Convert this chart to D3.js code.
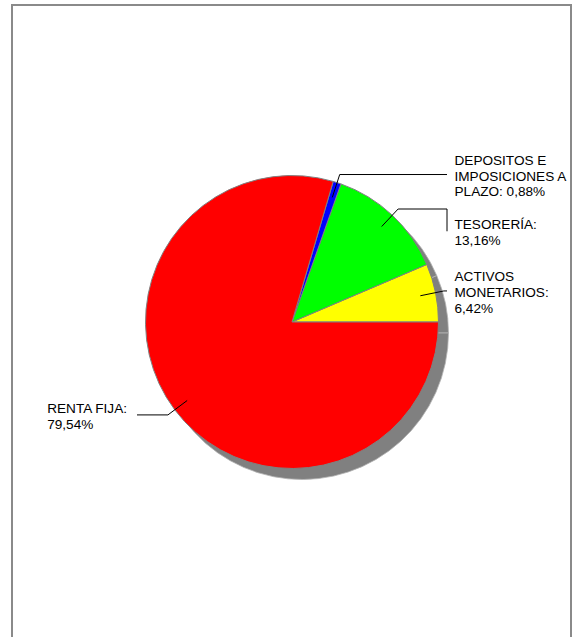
<!DOCTYPE html>
<html>
<head>
<meta charset="utf-8">
<script src="https://cdn.jsdelivr.net/npm/d3@7"></script>
<style>
	html, body { margin: 0; padding: 0; background: #fff; }
	svg { display: block; }
	text { font-family: "Liberation Sans", Arial, sans-serif; font-size: 13.6px; fill: #000; }
</style>
</head>
<body>
<svg id="chart"></svg>
<script>
// chart data (counter-clockwise from 3 o'clock)
const categories = ['ACTIVOS MONETARIOS', 'TESORERÍA', 'DEPOSITOS E IMPOSICIONES A PLAZO', 'RENTA FIJA'];
const values = [6.42, 13.16, 0.88, 79.54];
const colors = ['#ffff00', '#00ff00', '#0000ff', '#ff0000'];

const width = 572, height = 637;
const cx = 292, cy = 322, radius = 146.5;
const shadowDx = 10, shadowDy = 11;
const lineHeight = 15.7;
const wrapWidth = 116;

const esLocale = d3.formatLocale({ decimal: ',', thousands: '.', grouping: [3], currency: ['', '€'] });
const fmt = esLocale.format('.2f');

const svg = d3.select('#chart')
	.attr('width', width)
	.attr('height', height);

// frame
svg.append('rect')
	.attr('x', 12)
	.attr('y', 5)
	.attr('width', 559)
	.attr('height', 700)
	.attr('fill', 'none')
	.attr('stroke', '#8a8a8a')
	.attr('stroke-width', 2);

const pie = d3.pie()
	.sort(null)
	.value(d => d)
	.startAngle(Math.PI / 2)
	.endAngle(Math.PI / 2 - 2 * Math.PI);

const arcs = pie(values);

const arc = d3.arc().innerRadius(0).outerRadius(radius);
const innerArc = d3.arc().innerRadius(131).outerRadius(131);
const outerArc = d3.arc().innerRadius(155).outerRadius(155);

// shadow
svg.append('g')
	.attr('transform', `translate(${cx + shadowDx},${cy + shadowDy})`)
	.selectAll('path')
	.data(arcs)
	.enter()
	.append('path')
	.attr('d', arc)
	.attr('fill', '#808080')
	.attr('stroke', '#b4b4b4')
	.attr('stroke-width', 0.8);

const g = svg.append('g')
	.attr('transform', `translate(${cx},${cy})`);

g.selectAll('.slice')
	.data(arcs)
	.enter()
	.append('path')
	.attr('class', 'slice')
	.attr('d', arc)
	.attr('fill', (d, i) => colors[i])
	.attr('stroke', '#808080')
	.attr('stroke-width', 1);

// label text, wrapped
const measure = svg.append('text').attr('visibility', 'hidden');
const textWidth = s => { measure.text(s); return measure.node().getComputedTextLength(); };

const wrap = (str) => {
	const words = str.split(' ');
	const lines = [];
	let cur = '';
	words.forEach(w => {
		const test = cur ? cur + ' ' + w : w;
		if (cur && textWidth(test) > wrapWidth) {
			lines.push(cur);
			cur = w;
		} else {
			cur = test;
		}
	});
	if (cur) lines.push(cur);
	return lines;
};

const labels = arcs.map((d, i) => {
	const start = innerArc.centroid(d);
	const elbow = outerArc.centroid(d);
	const right = elbow[0] >= 0;
	const lines = wrap(`${categories[i]}: ${fmt(values[i])}%`);
	return { start, elbow, right, lines, y: elbow[1] };
});

// push labels apart on each side
[true, false].forEach(side => {
	const group = labels.filter(l => l.right === side).sort((a, b) => a.elbow[1] - b.elbow[1]);
	for (let i = 1; i < group.length; i++) {
		const prev = group[i - 1], cur = group[i];
		const minY = prev.y + (prev.lines.length + cur.lines.length) / 2 * lineHeight + 17.5;
		if (cur.y < minY) cur.y = minY;
	}
});

measure.remove();

const line = d3.line();

labels.forEach(l => {
	const xEnd = l.right ? 155 : -155;
	const pts = [l.start, l.elbow, [xEnd, l.elbow[1]]];
	if (Math.abs(l.y - l.elbow[1]) > 0.5) pts.push([xEnd, l.y]);

	g.append('path')
		.attr('d', line(pts))
		.attr('fill', 'none')
		.attr('stroke', '#000')
		.attr('stroke-width', 1);

	const t = g.append('text');
	const firstBase = l.y + 6 - (l.lines.length - 1) * lineHeight / 2;
	l.lines.forEach((s, j) => {
		t.append('tspan')
			.attr('y', firstBase + j * lineHeight)
			.text(s);
	});
	if (l.right) {
		t.selectAll('tspan').attr('x', xEnd + 7.5);
	} else {
		const maxW = d3.max(t.selectAll('tspan').nodes(), n => n.getComputedTextLength());
		t.selectAll('tspan').attr('x', xEnd - 10 - maxW);
	}
});
</script>
</body>
</html>
